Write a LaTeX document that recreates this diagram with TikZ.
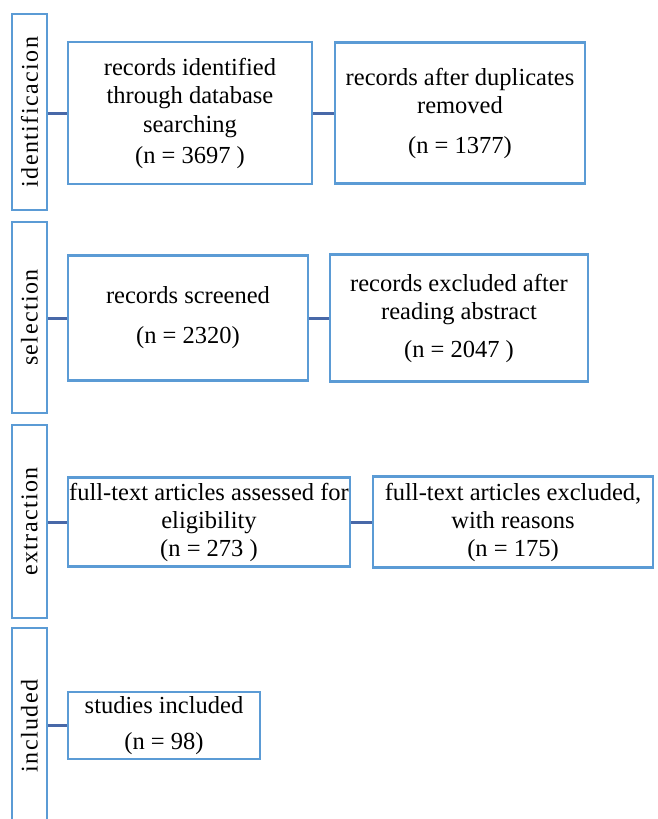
\documentclass[tikz,border=0pt]{standalone}
\usepackage{fontspec}
\setmainfont{Liberation Serif}
\newfontfamily\barfont[LetterSpace=6]{Liberation Serif}
\definecolor{boxblue}{RGB}{91,155,213}
\definecolor{linkblue}{RGB}{72,104,168}

\begin{document}
\begin{tikzpicture}[x=1pt,y=-1pt]

 \tikzset{
    box/.style={draw=boxblue, line width=2.8pt, fill=white, align=center,
      inner sep=0pt, font=\fontsize{24.5}{28}\selectfont},
    phasebar/.style={draw=boxblue, line width=2.8pt, rotate=90,
      minimum height=35pt, inner sep=0pt, font=\barfont\fontsize{24}{26}\selectfont},
    link/.style={draw=linkblue, line width=3pt},
  }

  \useasboundingbox (0,0) rectangle (657,819);

  \node[phasebar, minimum width=196pt] (idbar)  at (29.5,112)   {identificacion};
  \node[phasebar, minimum width=191pt] (selbar) at (29.5,317.5) {selection};
  \node[phasebar, minimum width=193pt] (extbar) at (29.5,521.5) {extraction};
  \node[phasebar, minimum width=196pt] (incbar) at (29.5,726)   {included};

  \node[box, minimum width=244pt, minimum height=142pt] (identified) at (190,113)
    {records identified\\through database\\[1pt]searching\\[3pt](n = 3697 )};
  \node[box, minimum width=250pt, minimum height=141pt] (deduped) at (460,113)
    {records after duplicates\\removed\\[12pt](n = 1377)};

  \node[box, minimum width=240pt, minimum height=125pt] (screened) at (188,318)
    {records screened\\[12pt](n = 2320)};
  \node[box, minimum width=258pt, minimum height=127pt] (abstractout) at (459,318)
    {records excluded after\\reading abstract\\[10pt](n = 2047 )};

  \node[box, minimum width=282pt, minimum height=89pt] (assessed) at (209,522)
    {full-text articles assessed for\\eligibility\\(n = 273 )};
  \node[box, minimum width=280pt, minimum height=91pt] (fulltextout) at (513,522)
    {full-text articles excluded,\\with reasons\\(n = 175)};

  \node[box, minimum width=192pt, minimum height=67pt] (studies) at (164,725.5)
    {studies included\\[8pt](n = 98)};

  \draw[link] (idbar.south |- identified.west) -- (identified.west);
  \draw[link] (identified.east) -- (deduped.west);
  \draw[link] (selbar.south |- screened.west) -- (screened.west);
  \draw[link] (screened.east) -- (abstractout.west);
  \draw[link] (extbar.south |- assessed.west) -- (assessed.west);
  \draw[link] (assessed.east) -- (fulltextout.west);
  \draw[link] (incbar.south |- studies.west) -- (studies.west);

\end{tikzpicture}
\end{document}
